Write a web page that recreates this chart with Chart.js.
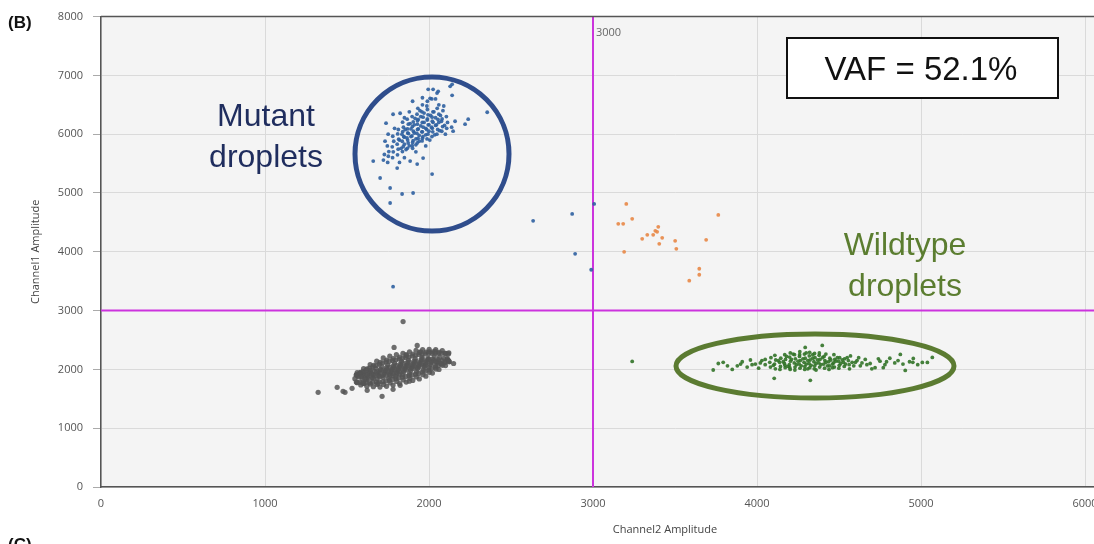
<!DOCTYPE html>
<html lang="en">
<head>
  <meta charset="UTF-8" />
  <title>Droplet amplitude plot</title>
  <script src="https://cdn.jsdelivr.net/npm/chart.js"></script>
  <style>
    html, body { margin: 0; padding: 0; overflow: hidden; background: #fff; }
    #wrap { width: 1260px; height: 544px; position: relative; }
  </style>
</head>
<body>
  <div id="wrap">
    <canvas id="grafico" width="1260" height="544"></canvas>
  </div>

  <script>
    // axis ticks
    const xTicks = [0, 1000, 2000, 3000, 4000, 5000, 6000, 7000];
    const yTicks = [0, 1000, 2000, 3000, 4000, 5000, 6000, 7000, 8000];
    const threshold = 3000;

    // double negative droplets (grey)
    const negDroplets = [
      [1548,1842],[1556,1905],[1571,1871],[1583,1936],[1592,1850],[1604,1898],[1611,1958],[1619,1826],[1627,1882],[1636,1931],
      [1644,1990],[1652,1858],[1660,1912],[1668,1965],[1675,2018],[1683,1840],[1690,1893],[1697,1947],[1704,2001],[1712,2049],
      [1719,1866],[1726,1922],[1733,1975],[1741,2030],[1748,2078],[1755,1848],[1762,1900],[1769,1953],[1776,2007],[1783,2060],
      [1790,2105],[1797,1880],[1804,1932],[1811,1985],[1818,2038],[1825,2090],[1832,2135],[1839,1905],[1846,1958],[1853,2011],
      [1860,2064],[1867,2116],[1874,2160],[1881,1930],[1888,1983],[1895,2036],[1902,2089],[1909,2140],[1916,2185],[1923,1957],
      [1930,2010],[1937,2063],[1944,2115],[1951,2165],[1958,2205],[1965,1990],[1972,2042],[1979,2095],[1986,2146],[1993,2190],
      [2000,2030],[2008,2080],[2016,2130],[2024,2175],[2032,2220],[2040,2068],[2048,2118],[2056,2165],[2064,2205],[2072,2100],
      [2080,2150],[2090,2190],[2100,2130],[2112,2165],
      [1565,1890],[1598,1925],[1630,1855],[1640,1960],[1663,1890],[1688,1920],[1700,1975],[1716,1895],[1730,1950],[1745,2005],
      [1758,1925],[1772,1980],[1786,2033],[1800,1955],[1814,2010],[1828,2063],[1842,1980],[1856,2035],[1870,2088],[1884,2010],
      [1898,2063],[1912,2115],[1926,2035],[1940,2088],[1954,2140],[1968,2065],[1982,2118],[1996,2165],[2012,2105],[2028,2150],
      [2044,2140],[2060,2130],[1780,1930],[1820,1960],[1860,1990],[1900,2015],[1940,2040],[1980,2070],[1750,1970],[1790,2000],
      [1830,2040],[1870,2060],[1910,2060],[1950,2090],[1720,1990],[1680,1960],[1650,1925],[1620,1910],[1590,1880],[1760,2040],
      [1800,2070],[1840,2110],[1880,2130],[1920,2140],[1960,2170],[2000,2180],[1700,1880],[1740,1900],[1780,1890],[1820,1920],
      [1660,1850],[1610,1840],
      [1562,1945],[1558,1911],[1563,1775],[1557,1785],[1582,1950],[1577,1938],[1584,1735],[1579,1780],
      [1601,2015],[1598,1966],[1603,1760],[1596,1778],[1622,2010],[1618,1993],[1621,1715],[1617,1783],
      [1641,2080],[1637,2020],[1643,1750],[1639,1775],[1662,2070],[1658,2043],[1661,1705],[1657,1783],
      [1681,2140],[1678,2066],[1683,1745],[1679,1786],[1702,2120],[1698,2088],[1701,1700],[1697,1788],
      [1721,2195],[1718,2113],[1723,1745],[1719,1791],[1742,2160],[1738,2126],[1741,1712],[1737,1804],
      [1761,2225],[1758,2138],[1763,1770],[1759,1815],[1782,2185],[1778,2150],[1781,1735],[1777,1829],
      [1801,2250],[1798,2164],[1803,1795],[1799,1842],[1822,2210],[1818,2177],[1821,1760],[1817,1855],
      [1841,2275],[1838,2190],[1843,1820],[1839,1868],[1862,2235],[1858,2202],[1861,1785],[1857,1880],
      [1881,2300],[1878,2215],[1883,1848],[1879,1893],[1902,2262],[1898,2228],[1901,1812],[1897,1906],
      [1921,2325],[1918,2241],[1923,1872],[1919,1919],[1942,2288],[1938,2254],[1941,1838],[1937,1932],
      [1961,2335],[1958,2255],[1963,1910],[1959,1955],[1982,2295],[1978,2265],[1981,1885],[1977,1971],
      [2001,2340],[1998,2271],[2003,1950],[1999,1991],[2022,2300],[2018,2274],[2021,1938],[2017,2014],
      [2041,2338],[2038,2276],[2043,2005],[2039,2038],[2062,2290],[2058,2274],[2061,1998],[2057,2064],
      [2081,2320],[2078,2273],[2083,2070],[2079,2091],[2102,2275],[2098,2272],[2101,2065],[2097,2118],
      [2121,2281],[2118,2264],[2123,2128],[2119,2152],
      [1324,1610],[1440,1695],[1476,1627],[1488,1610],[1531,1678],[1623,1644],[1714,1542],[1781,1661],[1824,1729],[2111,2187],
      [2123,2136],[2150,2100],[2037,2305],[1928,2407],[1787,2373],[1842,2814],[1560,1780],[1600,1760],[1690,1760],[1880,1800],
      [2000,2300],[1860,2250],[1950,2300]
    ];

    // channel1 positive droplets (blue)
    const mutDroplets = [
      [1722,5560],[1728,5655],[1748,5520],[1752,5625],[1755,5705],[1746,5800],[1778,5600],[1782,5700],[1776,5785],[1785,5880],
      [1779,5965],[1808,5650],[1812,5745],[1806,5830],[1815,5915],[1809,6005],[1813,6080],[1838,5705],[1843,5790],[1837,5880],
      [1846,5960],[1840,6045],[1844,6120],[1839,6205],[1868,5760],[1873,5850],[1866,5935],[1875,6010],[1869,6090],[1874,6170],
      [1867,6255],[1898,5805],[1903,5890],[1896,5970],[1905,6050],[1899,6130],[1904,6210],[1897,6300],[1928,5850],[1933,5930],
      [1926,6015],[1935,6090],[1929,6170],[1934,6250],[1927,6340],[1932,6440],[1958,5885],[1963,5960],[1956,6040],[1965,6120],
      [1959,6200],[1964,6290],[1957,6380],[1988,5920],[1993,6000],[1986,6080],[1995,6160],[1989,6240],[1994,6330],[1987,6480],
      [2018,5960],[2023,6040],[2016,6120],[2025,6200],[2019,6290],[2024,6380],[2017,6600],[2048,6000],[2053,6080],[2046,6160],
      [2055,6250],[2049,6700],[2078,6050],[2083,6130],[2076,6220],[2085,6400],[2108,6100],[2113,6200],[2106,6300],[2138,6120],
      [2141,6848],[2129,6814],[1995,6763],[2025,6763],[2056,6729],[2007,6610],[2141,6661],[1781,6339],[1824,6356],[1738,6187],
      [1732,5882],[1751,6000],[2159,6220],[2220,6170],[2239,6255],[2147,6051],[1806,5424],[1885,5543],[1928,5492],[1964,5594],
      [1660,5543],[1702,5255],[1763,5085],[1836,4983],[1903,5000],[1763,4830],[2019,5322],[2355,6373],[1850,5600],[1920,5700],
      [1980,5800],[1880,6380],[1960,6500],[2060,6500],[1900,6560],[2100,6000],[1820,5520],[1790,6100],[1850,6280],
      [1830,5760],[1850,5830],[1870,5900],[1890,5960],[1910,6020],[1930,6080],[1950,6140],[1970,6200],[1990,6260],[2010,6320],
      [2030,6380],[2050,6440],[1860,5740],[1880,5800],[1900,5860],[1920,5920],[1940,5980],[1960,6040],[1980,6100],[2000,6160],
      [2020,6220],[2040,6280],[2060,6340],[1850,5950],[1870,6020],[1890,6090],[1910,6160],[1930,6230],[1950,6300],[1970,6360],
      [1990,6420],[1900,5760],[1920,5820],[1940,5880],[1960,5930],[1980,5990],[2000,6050],[2020,6100],[2040,6150],[2060,6200],
      [2080,6260],[1820,5900],[1835,6000],[1855,6080],[1885,6180],[1915,6270],[1945,6400],[2005,5900],[2035,5990],[2065,6060],
      [2095,6150],[2070,6320],[1990,6560],[2040,6600],[1960,6620],[2090,6480],
      [1781,3407],[2635,4526],[2873,4644],[2891,3966],[2989,3695],[3007,4814]
    ];

    // double positive droplets (orange)
    const dblDroplets = [
      [3203,4814],[3154,4475],[3184,4475],[3239,4560],[3398,4424],[3380,4356],[3391,4339],[3367,4288],[3331,4288],[3300,4220],
      [3422,4237],[3404,4136],[3501,4187],[3508,4051],[3690,4204],[3764,4627],[3190,4000],[3648,3712],[3648,3610],[3587,3509]
    ];

    // channel2 positive droplets (green)
    const wtDroplets = [
      [3733,1990],[3764,2100],[3794,2120],[3849,2000],[3880,2060],[3910,2130],[3940,2040],[3960,2160],[3990,2090],[4010,2020],
      [4030,2150],[4050,2080],
      [4082,2040],[4078,2120],[4085,2200],[4112,2010],[4107,2090],[4114,2160],[4109,2240],[4143,2050],[4138,2120],[4145,2190],
      [4140,2000],[4172,2030],[4167,2100],[4174,2170],[4169,2250],[4171,2070],[4202,2000],[4197,2080],[4204,2140],[4199,2210],
      [4203,2280],[4232,2040],[4227,2110],[4234,2180],[4229,2250],[4231,1990],[4262,2020],[4257,2090],[4264,2150],[4259,2220],
      [4261,2300],[4292,2050],[4287,2120],[4294,2190],[4289,2260],[4291,2000],[4294,2373],[4322,2030],[4317,2100],[4324,2160],
      [4319,2230],[4321,2290],[4352,2060],[4347,2130],[4354,2200],[4349,2010],[4351,2270],[4382,2040],[4377,2110],[4384,2170],
      [4379,2240],[4398,2407],[4412,2020],[4407,2090],[4414,2150],[4409,2220],[4442,2060],[4437,2130],[4444,2190],[4439,2000],
      [4472,2040],[4467,2110],[4474,2170],[4469,2250],[4502,2070],[4497,2140],[4504,2200],[4499,2020],[4532,2050],[4527,2120],
      [4534,2180],[4562,2080],[4557,2150],[4564,2010],
      [4100,2070],[4130,2150],[4160,2130],[4190,2050],[4210,2170],[4240,2080],[4250,2140],[4270,2060],[4280,2180],[4300,2090],
      [4310,2150],[4330,2070],[4340,2190],[4360,2100],[4370,2160],[4390,2080],[4400,2200],[4420,2120],[4430,2060],[4450,2160],
      [4460,2090],[4480,2140],[4490,2200],[4510,2100],[4520,2160],[4540,2090],[4550,2200],[4580,2120],[4590,2060],[4610,2150],
      [4640,2110],[4670,2080],[4180,2220],[4220,2260],[4260,2250],[4300,2280],[4340,2250],[4380,2280],[4420,2260],[4310,2010],
      [4360,1990],[4200,2030],[4460,2030],[4050,2170],[4020,2110],[3970,2080],[3900,2090],[3820,2060],[4740,2180],[4790,2130],
      [4860,2150],[4890,2090],[4950,2120],[4770,2030],
      [4600,2120],[4630,2060],[4660,2170],[4690,2100],[4720,2030],[4750,2140],[4780,2080],[4810,2190],[4840,2110],[4874,2254],
      [4904,1983],[4930,2130],[4953,2187],[4980,2080],[5008,2119],[5039,2119],[5069,2204],[4620,2200],[4700,2010],[4570,2230],
      [4105,1848],[4325,1814],[3239,2136]
    ];

    const plotStyle = {
      id: 'plotStyle',
      beforeDraw(chart) {
        const {ctx, chartArea: a} = chart;
        ctx.save();
        ctx.fillStyle = '#f4f4f4';
        ctx.fillRect(a.left, a.top, a.right - a.left, a.bottom - a.top);
        ctx.restore();
      },
      beforeDatasetsDraw(chart) {
        const {ctx, chartArea: a, scales} = chart;
        const tx = scales.x.getPixelForValue(threshold);
        const ty = scales.y.getPixelForValue(threshold);
        ctx.save();
        ctx.strokeStyle = '#cc33dd';
        ctx.lineWidth = 2;
        ctx.beginPath();
        ctx.moveTo(tx, a.top); ctx.lineTo(tx, a.bottom);
        ctx.moveTo(a.left, ty); ctx.lineTo(a.right, ty);
        ctx.stroke();
        ctx.fillStyle = '#666';
        ctx.font = '11px "Open Sans"';
        ctx.textBaseline = 'middle';
        ctx.fillText('3000', tx + 3, a.top + 16);
        // top border
        ctx.strokeStyle = '#555';
        ctx.lineWidth = 1.5;
        ctx.beginPath();
        ctx.moveTo(a.left, a.top); ctx.lineTo(a.right, a.top);
        ctx.stroke();
        ctx.restore();
      },
      afterDatasetsDraw(chart) {
        const {ctx} = chart;
        ctx.save();
        // mutant circle
        ctx.strokeStyle = '#2f4d8c';
        ctx.lineWidth = 5;
        ctx.beginPath();
        ctx.arc(432, 154, 77, 0, Math.PI * 2);
        ctx.stroke();
        // wildtype ellipse
        ctx.strokeStyle = '#5b7b31';
        ctx.beginPath();
        ctx.ellipse(815, 366, 139, 32, 0, 0, Math.PI * 2);
        ctx.stroke();

        ctx.textAlign = 'center';
        ctx.textBaseline = 'alphabetic';
        ctx.font = '32px "Liberation Sans"';
        ctx.fillStyle = '#1f2d5e';
        ctx.fillText('Mutant', 266, 126);
        ctx.fillText('droplets', 266, 167);
        ctx.fillStyle = '#5b7d30';
        ctx.fillText('Wildtype', 905, 255);
        ctx.fillText('droplets', 905, 296);

        // VAF box
        ctx.fillStyle = '#fff';
        ctx.fillRect(787, 38, 271, 60);
        ctx.strokeStyle = '#111';
        ctx.lineWidth = 2;
        ctx.strokeRect(787, 38, 271, 60);
        ctx.fillStyle = '#111';
        ctx.font = '33px "Liberation Sans"';
        ctx.fillText('VAF = 52.1%', 921, 80);

        // axis title under the x axis
        ctx.fillStyle = '#444';
        ctx.font = '11px "Open Sans"';
        ctx.textBaseline = 'middle';
        ctx.fillText('Channel2 Amplitude', 665, 530);

        // panel labels
        ctx.textAlign = 'left';
        ctx.textBaseline = 'alphabetic';
        ctx.fillStyle = '#111';
        ctx.font = 'bold 17px "Liberation Sans"';
        ctx.fillText('(B)', 8, 28);
        ctx.fillText('(C)', 8, 550);
        ctx.restore();
      }
    };

    const pt = (color, r) => ({
      backgroundColor: color,
      borderWidth: 0,
      pointRadius: r,
      pointHoverRadius: r
    });

    new Chart(document.getElementById('grafico'), {
      type: 'scatter',
      data: {
        datasets: [
          { label: 'neg', data: negDroplets, ...pt('rgba(85,85,85,0.85)', 2.6) },
          { label: 'mut', data: mutDroplets, ...pt('rgba(45,95,160,0.9)', 1.9) },
          { label: 'dbl', data: dblDroplets, ...pt('rgba(232,135,70,0.9)', 1.9) },
          { label: 'wt', data: wtDroplets, ...pt('rgba(50,115,40,0.9)', 1.9) }
        ]
      },
      options: {
        responsive: false,
        animation: false,
        devicePixelRatio: 1,
        layout: { padding: { top: 14, left: 0, right: 11, bottom: 0 } },
        plugins: { legend: { display: false }, tooltip: { enabled: false } },
        scales: {
          x: {
            type: 'linear',
            min: 0,
            max: 7000,
            afterBuildTicks: (s) => { s.ticks = xTicks.map(v => ({ value: v })); },
            afterFit: (s) => { s.height = 57; },
            ticks: {
              color: '#555',
              font: { family: 'Open Sans', size: 11 },
              padding: 10,
              callback: (v) => (v === 7000 ? '' : String(v))
            },
            grid: { color: '#dadada', drawTicks: false },
            border: { display: true, color: '#555', width: 1.5 }
          },
          y: {
            type: 'linear',
            min: 0,
            max: 8000,
            afterBuildTicks: (s) => { s.ticks = yTicks.map(v => ({ value: v })); },
            afterFit: (s) => { s.width = 101; },
            ticks: {
              color: '#555',
              font: { family: 'Open Sans', size: 11 },
              padding: 10,
              callback: (v) => String(v)
            },
            grid: { color: '#dadada', tickColor: '#aaa', tickLength: 8 },
            border: { display: true, color: '#555', width: 1.5 },
            title: {
              display: true,
              text: 'Channel1 Amplitude',
              color: '#444',
              font: { family: 'Open Sans', size: 11 },
              padding: { top: 29, bottom: 4 }
            }
          }
        }
      },
      plugins: [plotStyle]
    });
  </script>
</body>
</html>
